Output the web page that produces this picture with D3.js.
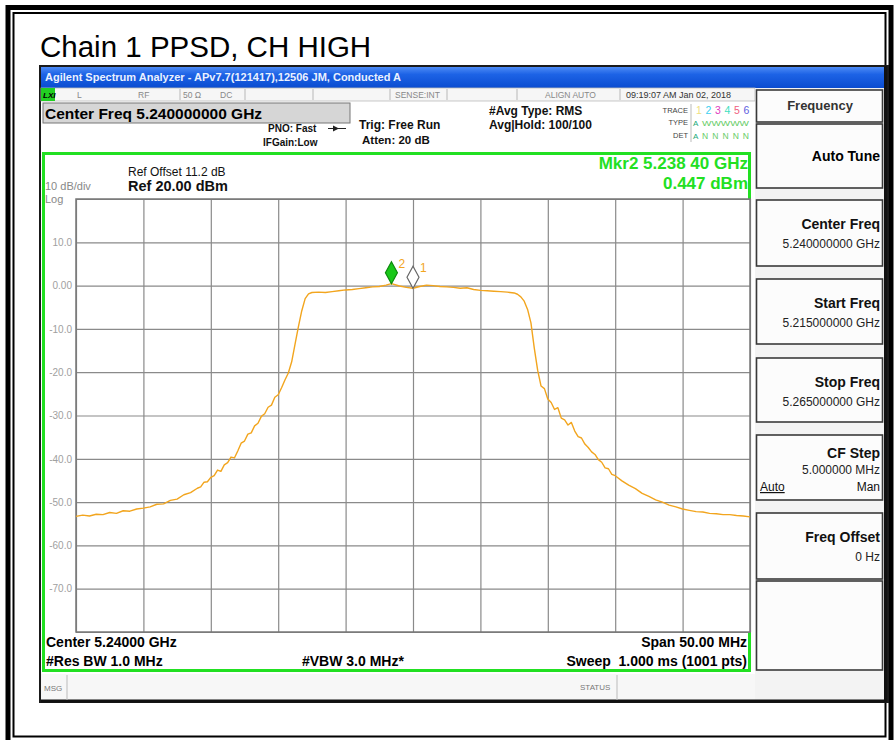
<!DOCTYPE html>
<html><head><meta charset="utf-8">
<script src="https://cdn.jsdelivr.net/npm/d3@7"></script>
<style>body{margin:0;background:#fff}svg{display:block}text{font-family:"Liberation Sans",Arial,sans-serif}</style>
</head><body>
<script>
// ---------- data ----------
const centerGHz = 5.24;
const spanMHz = 50;
const freqOffsetsMHz = [-25,-24.5,-24,-23.5,-23,-22.5,-22,-21.5,-21,-20.5,-20,-19.5,-19,-18.5,-18,-17.5,-17,-16.5,-16,-15.75,-15.5,-15.25,-15,-14.75,-14.5,-14.25,-14,-13.75,-13.5,-13.25,-13,-12.75,-12.5,-12.25,-12,-11.75,-11.5,-11.25,-11,-10.75,-10.5,-10.25,-10,-9.75,-9.5,-9.25,-9,-8.75,-8.5,-8.25,-8,-7.75,-7.5,-7,-6.5,-6,-5.5,-5,-4.5,-4,-3.5,-3,-2.5,-2,-1.6,-1,-0.5,0,0.5,1,1.5,2,2.5,3,3.5,4,4.5,5,5.5,6,6.5,7,7.5,7.75,8,8.25,8.5,8.75,9,9.25,9.5,9.75,10,10.25,10.5,10.75,11,11.25,11.5,11.75,12,12.25,12.5,12.75,13,13.25,13.5,13.75,14,14.25,14.5,14.75,15,15.5,16,16.5,17,17.5,18,18.5,19,19.5,20,20.5,21,21.5,22,22.5,23,23.5,24,24.5,25];
const levelsDbm = [-53.3,-53.0,-53.2,-52.8,-52.9,-52.4,-52.6,-52.0,-52.1,-51.6,-51.4,-51.1,-50.5,-50.4,-49.6,-49.3,-48.3,-47.8,-46.8,-46.5,-45.4,-45.3,-44.3,-43.9,-42.6,-42.9,-41.4,-40.9,-39.6,-39.8,-38.2,-36.4,-35.9,-34.3,-34.0,-32.4,-31.8,-30.2,-29.6,-28.1,-27.6,-25.8,-25.2,-23.6,-21.8,-20.2,-17.6,-13.5,-9.5,-5.8,-3.0,-1.9,-1.6,-1.5,-1.6,-1.4,-1.2,-1.0,-0.9,-0.7,-0.5,-0.3,-0.2,0.1,0.447,-0.1,-0.4,-0.6,-0.2,0.1,0.0,-0.2,-0.3,-0.4,-0.6,-0.5,-0.9,-1.1,-1.2,-1.3,-1.4,-1.5,-1.7,-2.0,-2.6,-3.6,-5.5,-8.6,-14.5,-19.6,-23.2,-23.8,-26.2,-27.0,-28.6,-28.2,-30.6,-31.0,-32.2,-31.6,-33.6,-34.9,-35.2,-36.6,-37.4,-38.4,-39.0,-40.2,-40.8,-42.1,-42.3,-43.6,-43.9,-45.1,-46.1,-46.9,-48.0,-48.7,-49.5,-50.0,-50.7,-51.1,-51.6,-51.9,-52.2,-52.3,-52.6,-52.7,-52.9,-52.9,-53.1,-53.2,-53.4];
const yTickValues = [10,0,-10,-20,-30,-40,-50,-60,-70];
const yTickLabels = ["10.0","0.00","-10.0","-20.0","-30.0","-40.0","-50.0","-60.0","-70.0"];
const refLevel = 20, dbPerDiv = 10, numDivs = 10;
const markerIds = ["2","1"];
const markerFreqsGHz = [5.2384, 5.24];
const markerLevels = [0.447, -0.6];
const softkeys = [
  {label:"Center Freq", value:"5.240000000 GHz"},
  {label:"Start Freq", value:"5.215000000 GHz"},
  {label:"Stop Freq", value:"5.265000000 GHz"},
  {label:"CF Step", value:"5.000000 MHz"},
  {label:"Freq Offset", value:"0 Hz"}
];

// ---------- drawing ----------
const W = 896, H = 740;
const svg = d3.select("body").append("svg").attr("width", W).attr("height", H);

// page frame
svg.append("rect").attr("x",8).attr("y",7.5).attr("width",883).attr("height",740).attr("fill","none").attr("stroke","#000").attr("stroke-width",5);
svg.append("rect").attr("x",13.5).attr("y",13).attr("width",872).attr("height",723.5).attr("fill","none").attr("stroke","#000").attr("stroke-width",2);

svg.append("text").attr("x",40).attr("y",57).attr("font-size",29.5).attr("fill","#000").text("Chain 1 PPSD, CH HIGH");

// analyzer window
const win = svg.append("g");
win.append("rect").attr("x",40).attr("y",66).attr("width",848).attr("height",636).attr("fill","#fff").attr("stroke","#1a1a1a").attr("stroke-width",2);
const grad = svg.append("defs").append("linearGradient").attr("id","tb").attr("x1",0).attr("y1",0).attr("x2",0).attr("y2",1);
grad.append("stop").attr("offset","0%").attr("stop-color","#4d8bf5");
grad.append("stop").attr("offset","35%").attr("stop-color","#1d63e6");
grad.append("stop").attr("offset","100%").attr("stop-color","#0a4cd0");
win.append("rect").attr("x",41).attr("y",67).attr("width",846).attr("height",21).attr("fill","url(#tb)");
win.append("text").attr("x",45).attr("y",81).attr("font-size",10.5).attr("font-weight","bold").attr("fill","#eaf1ff")
  .attr("textLength",356).attr("lengthAdjust","spacingAndGlyphs")
  .text("Agilent Spectrum Analyzer - APv7.7(121417),12506 JM, Conducted A");

// status row
win.append("rect").attr("x",41).attr("y",88).attr("width",714).attr("height",13).attr("fill","#f6f6f6").attr("stroke","#bbb").attr("stroke-width",0.8);
win.append("rect").attr("x",41).attr("y",88).attr("width",14).attr("height",13).attr("fill","#22d022");
win.append("text").attr("x",43).attr("y",98).attr("font-size",8).attr("font-weight","bold").attr("font-style","italic").text("LXI");
[[77,"L"],[138,"RF"],[183,"50 Ω"],[220,"DC"],[395,"SENSE:INT"],[545,"ALIGN AUTO"]].forEach(d=>{
  win.append("text").attr("x",d[0]).attr("y",98).attr("font-size",8.5).attr("fill","#888").text(d[1]);
});
win.append("text").attr("x",626).attr("y",98).attr("font-size",9).attr("fill","#333").text("09:19:07 AM Jan 02, 2018");
[180,245,313,390,447,517,620].forEach(x=>{
  win.append("line").attr("x1",x).attr("x2",x).attr("y1",89).attr("y2",100).attr("stroke","#aaa").attr("stroke-width",0.8);
});

// Center Freq box
win.append("rect").attr("x",43).attr("y",103).attr("width",307).attr("height",20).attr("fill","#d6d6d6").attr("stroke","#777").attr("stroke-width",1);
win.append("text").attr("x",45).attr("y",118.5).attr("font-size",15.5).attr("font-weight","bold").text("Center Freq 5.240000000 GHz");

const info = [
  [268,132,10,"PNO: Fast"],[263,146,10,"IFGain:Low"],[359,129,12,"Trig: Free Run"],[362,144,11.5,"Atten: 20 dB"],
  [489,115,12,"#Avg Type: RMS"],[489,129,12,"Avg|Hold: 100/100"]
];
info.forEach(d=>win.append("text").attr("x",d[0]).attr("y",d[1]).attr("font-size",d[2]).attr("font-weight","bold").attr("fill","#111").text(d[3]));
// trigger arrow  -→-
win.append("line").attr("x1",328).attr("x2",346).attr("y1",128.5).attr("y2",128.5).attr("stroke","#222").attr("stroke-width",1);
win.append("path").attr("d","M333,125.5 L339,128.5 L333,131.5 Z").attr("fill","#222");
win.append("text").attr("x",688).attr("y",113).attr("font-size",7.5).attr("text-anchor","end").attr("fill","#444").text("TRACE");
win.append("text").attr("x",688).attr("y",125).attr("font-size",7.5).attr("text-anchor","end").attr("fill","#444").text("TYPE");
win.append("text").attr("x",688).attr("y",138).attr("font-size",7.5).attr("text-anchor","end").attr("fill","#444").text("DET");
win.append("line").attr("x1",691).attr("x2",691).attr("y1",104).attr("y2",142).attr("stroke","#bbb");
const traceCols = ["#f0e080","#40d0f0","#e040c0","#40e0c0","#f06080","#6060e0"];
["1","2","3","4","5","6"].forEach((t,i)=>win.append("text").attr("x",696+i*9.5).attr("y",114).attr("font-size",10.5).attr("fill",traceCols[i]).text(t));
win.append("text").attr("x",693).attr("y",126).attr("font-size",8).attr("fill","#2a7").text("A");
win.append("text").attr("x",702).attr("y",126).attr("font-size",7).attr("fill","#6c6").attr("textLength",47).attr("lengthAdjust","spacingAndGlyphs").text("WWWWW");
win.append("text").attr("x",693).attr("y",139).attr("font-size",8).attr("fill","#2a7").text("A");
win.append("text").attr("x",702).attr("y",139).attr("font-size",8.5).attr("fill","#6c6").attr("textLength",47).attr("lengthAdjust","spacing").text("NNNNN");

// right softkey panel
win.append("rect").attr("x",755).attr("y",88).attr("width",131).attr("height",613).attr("fill","#f3f3f3");
win.append("line").attr("x1",885.5).attr("x2",885.5).attr("y1",66).attr("y2",702).attr("stroke","#111").attr("stroke-width",3);
function key(y0,y1){
  win.append("rect").attr("x",756.5).attr("y",y0).attr("width",126).attr("height",y1-y0).attr("fill","#fcfcfc").attr("stroke","#3a3a3a").attr("stroke-width",1.6);
}
key(90,122); key(124,188);
const keyTops = [200,279,358,435,513];
const keyBots = [266,344,422,500,579];
keyTops.forEach((t,i)=>key(t,keyBots[i]));
key(581,670);
win.append("text").attr("x",820).attr("y",110).attr("font-size",13).attr("font-weight","bold").attr("fill","#333").attr("text-anchor","middle").text("Frequency");
win.append("text").attr("x",880).attr("y",161).attr("font-size",14).attr("font-weight","bold").attr("text-anchor","end").text("Auto Tune");
softkeys.forEach((k,i)=>{
  const t = keyTops[i];
  const isCF = k.label==="CF Step";
  win.append("text").attr("x",880).attr("y",t+(isCF?23:29)).attr("font-size",14).attr("font-weight","bold").attr("text-anchor","end").attr("fill","#111").text(k.label);
  win.append("text").attr("x",880).attr("y",t+(isCF?39:48)).attr("font-size",12).attr("text-anchor","end").attr("fill","#222").text(k.value);
  if(isCF){
    win.append("text").attr("x",760).attr("y",t+56).attr("font-size",12).attr("fill","#111").attr("text-decoration","underline").text("Auto");
    win.append("text").attr("x",880).attr("y",t+56).attr("font-size",12).attr("text-anchor","end").attr("fill","#111").text("Man");
  }
});

// MSG / STATUS bar
win.append("rect").attr("x",41).attr("y",674).attr("width",714).attr("height",26).attr("fill","#f7f7f7");
win.append("line").attr("x1",41).attr("x2",886).attr("y1",701).attr("y2",701).attr("stroke","#111").attr("stroke-width",3);
win.append("line").attr("x1",67).attr("x2",67).attr("y1",675).attr("y2",700).attr("stroke","#bbb");
win.append("line").attr("x1",617).attr("x2",617).attr("y1",675).attr("y2",700).attr("stroke","#bbb");
win.append("text").attr("x",44).attr("y",691).attr("font-size",8).attr("fill","#777").text("MSG");
win.append("text").attr("x",580).attr("y",690).attr("font-size",8).attr("fill","#777").text("STATUS");

// measurement area (green frame)
win.append("rect").attr("x",43.5).attr("y",153.5).attr("width",706).attr("height",517).attr("fill","#fff").attr("stroke","#22e022").attr("stroke-width",3);

// scales
const x = d3.scaleLinear().domain([centerGHz - spanMHz/2000, centerGHz + spanMHz/2000]).range([76, 750]);
const y = d3.scaleLinear().domain([refLevel - dbPerDiv*numDivs, refLevel]).range([632, 199]);

const plot = win.append("g");
plot.append("rect").attr("x",76).attr("y",199).attr("width",674).attr("height",433).attr("fill","#fff");
const xGrid = d3.axisBottom(x).tickValues(d3.range(numDivs+1).map(i=>x.domain()[0]+i*(x.domain()[1]-x.domain()[0])/numDivs)).tickSize(-433).tickFormat("");
const yGrid = d3.axisLeft(y).tickValues(d3.range(numDivs+1).map(i=>refLevel - i*dbPerDiv)).tickSize(-674).tickFormat("");
const gx = plot.append("g").attr("transform","translate(0,632)").call(xGrid);
const gy = plot.append("g").attr("transform","translate(76,0)").call(yGrid);
[gx,gy].forEach(g=>{ g.select(".domain").remove(); g.selectAll("line").attr("stroke","#8a8a8a").attr("stroke-width",1.2); });
plot.append("rect").attr("x",76).attr("y",199).attr("width",674).attr("height",433).attr("fill","none").attr("stroke","#777").attr("stroke-width",1.5);

// y labels
const yLab = d3.axisLeft(y).tickValues(yTickValues).tickFormat((d,i)=>yTickLabels[i]).tickSize(0).tickPadding(4);
const gl = plot.append("g").attr("transform","translate(76,0)").call(yLab);
gl.select(".domain").remove();
gl.selectAll("text").attr("font-size",10).attr("fill","#a0a0a0").attr("font-family","Liberation Sans, Arial, sans-serif");

// header texts inside measurement area
win.append("text").attr("x",128).attr("y",176).attr("font-size",12).attr("fill","#111").text("Ref Offset 11.2 dB");
win.append("text").attr("x",128).attr("y",191).attr("font-size",14.5).attr("font-weight","bold").attr("fill","#111").text("Ref 20.00 dBm");
win.append("text").attr("x",45).attr("y",190).attr("font-size",11).attr("fill","#888").text("10 dB/div");
win.append("text").attr("x",45).attr("y",202.5).attr("font-size",11).attr("fill","#888").text("Log");
win.append("text").attr("x",748).attr("y",169).attr("font-size",17).attr("font-weight","bold").attr("fill","#22e022").attr("text-anchor","end").text("Mkr2 5.238 40 GHz");
win.append("text").attr("x",748).attr("y",189).attr("font-size",17).attr("font-weight","bold").attr("fill","#22e022").attr("text-anchor","end").text("0.447 dBm");
win.append("text").attr("x",46).attr("y",647).attr("font-size",14).attr("font-weight","bold").text("Center 5.24000 GHz");
win.append("text").attr("x",46).attr("y",666).attr("font-size",14).attr("font-weight","bold").text("#Res BW 1.0 MHz");
win.append("text").attr("x",302).attr("y",666).attr("font-size",14).attr("font-weight","bold").text("#VBW 3.0 MHz*");
win.append("text").attr("x",747).attr("y",647).attr("font-size",14).attr("font-weight","bold").attr("text-anchor","end").text("Span 50.00 MHz");
win.append("text").attr("x",747).attr("y",666).attr("font-size",14).attr("font-weight","bold").attr("text-anchor","end").attr("xml:space","preserve").text("Sweep  1.000 ms (1001 pts)");

// trace
const pts = freqOffsetsMHz.map((f,i)=>[centerGHz + f/1000, levelsDbm[i]]);
const line = d3.line().x(d=>x(d[0])).y(d=>y(d[1]));
plot.append("path").datum(pts).attr("d",line).attr("fill","none").attr("stroke","#f2a51e").attr("stroke-width",1.4).attr("stroke-linejoin","round");

// markers
markerIds.forEach((id,i)=>{
  const mx = x(markerFreqsGHz[i]), my = y(markerLevels[i]);
  const w = 6, h = 22;
  plot.append("path").attr("d",`M${mx},${my} L${mx+w},${my-h/2} L${mx},${my-h} L${mx-w},${my-h/2} Z`)
    .attr("fill", id==="2" ? "#19c819" : "#fff").attr("stroke", id==="2" ? "#0d8a0d" : "#666").attr("stroke-width",1.2);
  plot.append("text").attr("x",mx+w+1).attr("y",my-h+6).attr("font-size",12).attr("fill","#f2a51e").text(id);
});
</script>
</body></html>
